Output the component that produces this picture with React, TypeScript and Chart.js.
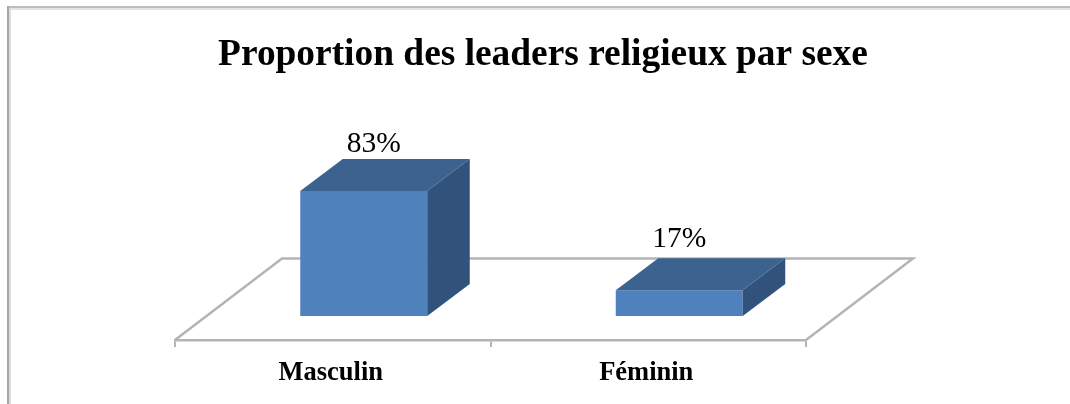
import React, { useEffect, useRef } from "react";
import { Chart, registerables } from "chart.js";

Chart.register(...registerables);

const categories = ["Masculin", "Féminin"];
const shareValues = [83, 17];
const valueLabels = ["83%", "17%"];
const chartTitle = "Proportion des leaders religieux par sexe";

const SERIF = '"Liberation Serif", "Times New Roman", serif';
const FRONT = "#4F81BD";
const TOP = "#3C6290";
const SIDE = "#30527B";
const GREY = "#B4B4B4";
// Oblique projection of the floor and of the boxes
const FLOOR_DX = 107;
const FLOOR_DY = 81.5;
const BOX_SHIFT = 31;
const BOX_DX = 42.5;
const BOX_DY = 32;
const LABEL_SHIFT = [10, 0];
const LABEL_RISE = [7, 11];

const poly = (ctx: CanvasRenderingContext2D, pts: number[][], fill: string) => {
  ctx.beginPath();
  pts.forEach(([x, y], i) => (i ? ctx.lineTo(x, y) : ctx.moveTo(x, y)));
  ctx.closePath();
  ctx.fillStyle = fill;
  ctx.fill();
};

const box3d = {
  id: "box3d",
  beforeDraw(chart: any) {
    const ctx = chart.ctx as CanvasRenderingContext2D;
    ctx.save();
    ctx.fillStyle = "#BEBEBE";
    ctx.fillRect(7, 6, 1063, 2);
    ctx.fillStyle = "#E4E4E4";
    ctx.fillRect(7, 8, 1063, 2);
    ctx.fillStyle = "#A6A6A6";
    ctx.fillRect(7, 6, 2, 398);
    ctx.fillStyle = "#DCDCDC";
    ctx.fillRect(9, 8, 2, 396);
    ctx.restore();
  },
  beforeDatasetsDraw(chart: any) {
    const ctx = chart.ctx as CanvasRenderingContext2D;
    const { left, right, bottom } = chart.chartArea;
    ctx.save();
    ctx.strokeStyle = GREY;
    ctx.lineWidth = 2.5;
    ctx.lineJoin = "miter";
    ctx.beginPath();
    ctx.moveTo(left, bottom);
    ctx.lineTo(left + FLOOR_DX, bottom - FLOOR_DY);
    ctx.lineTo(right + FLOOR_DX, bottom - FLOOR_DY);
    ctx.lineTo(right, bottom);
    ctx.stroke();
    ctx.restore();
  },
  beforeDatasetDraw(chart: any) {
    chart.ctx.save();
    chart.ctx.translate(BOX_SHIFT, 0);
  },
  afterDatasetDraw(chart: any, args: any) {
    const ctx = chart.ctx as CanvasRenderingContext2D;
    const meta = chart.getDatasetMeta(args.index);
    meta.data.forEach((bar: any, i: number) => {
      const l = bar.x - bar.width / 2;
      const r = bar.x + bar.width / 2;
      const t = bar.y;
      const b = bar.base;
      poly(ctx, [[l, t], [l + BOX_DX, t - BOX_DY], [r + BOX_DX, t - BOX_DY], [r, t]], TOP);
      poly(ctx, [[r, t], [r + BOX_DX, t - BOX_DY], [r + BOX_DX, b - BOX_DY], [r, b]], SIDE);
      ctx.save();
      ctx.font = `29.5px ${SERIF}`;
      ctx.fillStyle = "#000";
      ctx.textAlign = "center";
      ctx.textBaseline = "alphabetic";
      ctx.fillText(valueLabels[i], bar.x + LABEL_SHIFT[i], t - BOX_DY - LABEL_RISE[i]);
      ctx.restore();
    });
    ctx.restore();
  },
};

export default function App() {
  const ref = useRef<HTMLCanvasElement>(null);
  useEffect(() => {
    const chart = new Chart(ref.current!, {
      type: "bar",
      data: {
        labels: categories,
        datasets: [
          {
            data: shareValues,
            backgroundColor: FRONT,
            borderWidth: 0,
            barPercentage: 0.4025,
            categoryPercentage: 1,
            clip: false,
          } as any,
        ],
      },
      plugins: [box3d],
      options: {
        animation: false,
        responsive: false,
        layout: { padding: { left: 16, right: 0, top: 0, bottom: 0 } },
        plugins: {
          legend: { display: false },
          tooltip: { enabled: false },
          title: {
            display: true,
            text: chartTitle,
            color: "#000",
            font: { family: SERIF, size: 37.4, weight: "bold", lineHeight: 1.2 },
            padding: { top: 33, bottom: 12.1 },
          },
        },
        scales: {
          x: {
            grid: {
              display: true,
              drawOnChartArea: false,
              drawTicks: true,
              tickLength: 7,
              color: GREY,
              lineWidth: 2,
            },
            border: { display: true, color: GREY, width: 2.5 },
            ticks: {
              color: "#000",
              padding: 10,
              labelOffset: -2,
              maxRotation: 0,
              font: { family: SERIF, size: 26.5, weight: "bold" },
            },
            afterFit: (s: any) => {
              s.height = 64;
            },
          },
          y: {
            min: -16,
            max: 150,
            grid: { display: false },
            border: { display: false },
            ticks: { display: false },
            afterFit: (s: any) => {
              s.width = 159;
            },
          },
          yRight: {
            position: "right",
            grid: { display: false },
            border: { display: false },
            ticks: { display: false },
            afterFit: (s: any) => {
              s.width = 264;
            },
          },
        },
      } as any,
    });
    return () => chart.destroy();
  }, []);
  return (
    <div style={{ position: "fixed", left: 0, top: 0, width: 1070, height: 404, background: "#fff", overflow: "hidden" }}>
      <canvas ref={ref} width={1070} height={404} style={{ display: "block", filter: "blur(0.6px)" }} />
    </div>
  );
}
